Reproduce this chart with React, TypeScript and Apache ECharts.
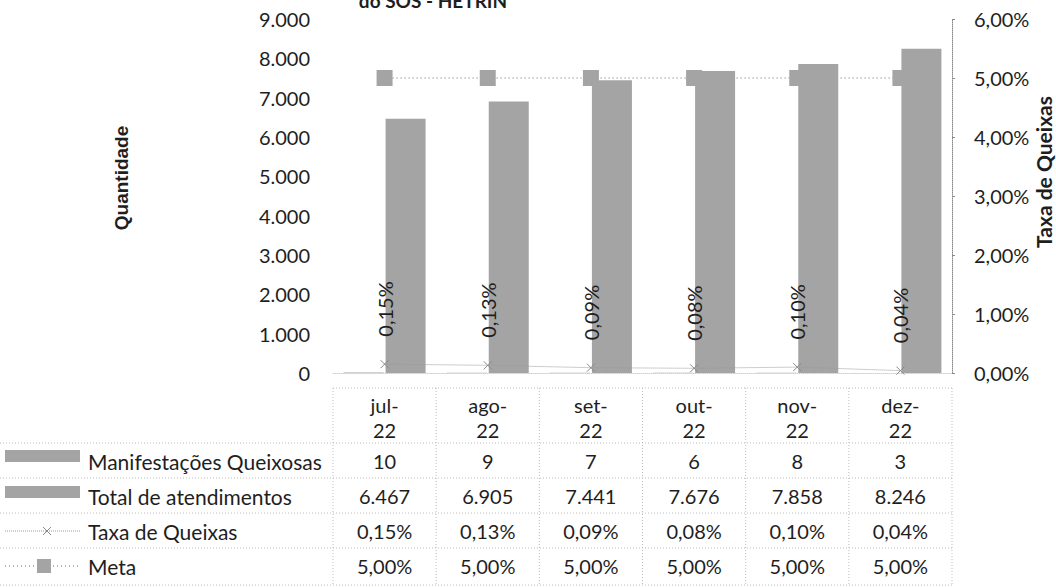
import React, { useEffect, useRef } from "react";
import * as echarts from "echarts";

const categories = ["jul-22", "ago-22", "set-22", "out-22", "nov-22", "dez-22"];
const manifestacoes = [10, 9, 7, 6, 8, 3];
const totalAtendimentos = [6467, 6905, 7441, 7676, 7858, 8246];
const taxaQueixas = [0.15, 0.13, 0.09, 0.08, 0.1, 0.04];
const meta = [5, 5, 5, 5, 5, 5];
const seriesNames = ["Manifestações Queixosas", "Total de atendimentos", "Taxa de Queixas", "Meta"];
const titleText = "do SOS - HETRIN";
const leftAxisName = "Quantidade";
const rightAxisName = "Taxa de Queixas";

const FONT = 'Lato, "Liberation Sans", sans-serif';
const BAR = "#a4a4a4";
const LINE = "#9a9a9a";
const TXT = "#1e1e1e";
const TABLE_LINE = "#bdbdbd";

const fmtInt = (v: number) => String(Math.round(v)).replace(/\B(?=(\d{3})+(?!\d))/g, ".");
const fmtPct = (v: number) => v.toFixed(2).replace(".", ",") + "%";

const GRID = { left: 333, top: 19, width: 619, height: 354 };

export default function App() {
  const ref = useRef<HTMLDivElement>(null);
  useEffect(() => {
    if (!ref.current) return;
    const chart = echarts.init(ref.current, undefined, { renderer: "svg" });
    const xMarker = "path://M0,0L10,10M10,0L0,10";
    chart.setOption({
      animation: false,
      textStyle: { fontFamily: FONT },
      grid: { left: GRID.left, top: GRID.top, width: GRID.width, height: GRID.height, containLabel: false },
      xAxis: {
        type: "category",
        data: categories,
        axisLabel: { show: false },
        axisTick: { show: false },
        axisLine: { show: true, lineStyle: { color: "#d0d0d0", type: "dotted", width: 1 } },
      },
      yAxis: [
        {
          type: "value",
          min: 0,
          max: 9000,
          interval: 1000,
          splitLine: { show: false },
          axisLine: { show: false },
          axisTick: { show: false },
          axisLabel: { color: TXT, fontSize: 20, fontFamily: FONT, margin: 23, formatter: (v: number) => fmtInt(v) },
        },
        {
          type: "value",
          min: 0,
          max: 6,
          interval: 1,
          position: "right",
          splitLine: { show: false },
          axisLine: { show: true, lineStyle: { color: "#8a8a8a", type: "dotted", width: 1 } },
          axisTick: { show: true, length: 3, lineStyle: { color: "#8a8a8a" } },
          axisLabel: { color: TXT, fontSize: 20, fontFamily: FONT, margin: 22, formatter: (v: number) => fmtPct(v) },
        },
      ],
      series: [
        {
          name: seriesNames[0],
          type: "bar",
          data: manifestacoes,
          barWidth: 40,
          barGap: "5%",
          itemStyle: { color: BAR },
        },
        {
          name: seriesNames[1],
          type: "bar",
          data: totalAtendimentos,
          barWidth: 40,
          barGap: "5%",
          itemStyle: { color: BAR },
        },
        {
          name: seriesNames[3],
          type: "line",
          yAxisIndex: 1,
          data: meta,
          symbol: "rect",
          symbolSize: 16,
          itemStyle: { color: BAR },
          lineStyle: { color: LINE, type: [1, 3], width: 1.5 },
          z: 1,
        },
        {
          name: seriesNames[2],
          type: "line",
          yAxisIndex: 1,
          data: taxaQueixas,
          symbol: xMarker,
          symbolSize: 8,
          itemStyle: { color: "none", borderColor: "#888", borderWidth: 1 },
          lineStyle: { color: LINE, type: "dotted", width: 1 },
          label: {
            show: true,
            position: "top",
            rotate: 90,
            align: "left",
            verticalAlign: "middle",
            distance: 21,
            color: TXT,
            fontSize: 20,
            fontFamily: FONT,
            formatter: (p: any) => fmtPct(p.value),
          },
          z: 5,
        },
      ],
    });

    // data table below the plot
    const centers = categories.map((_, i) => chart.convertToPixel({ xAxisIndex: 0 }, i) as number);
    const colW = GRID.width / categories.length;
    const left = GRID.left;
    const right = GRID.left + GRID.width;
    const rowLines = [443, 478, 513, 548, 585];
    const headTop = 388;
    const rowCenters = [461, 496, 531, 566];
    const dash = { stroke: TABLE_LINE, lineWidth: 1, lineDash: [1, 2] };
    const g: any[] = [];
    g.push({ type: "line", shape: { x1: left, y1: headTop, x2: right, y2: headTop }, style: dash, silent: true });
    rowLines.forEach((y) =>
      g.push({ type: "line", shape: { x1: 0, y1: y, x2: right, y2: y }, style: dash, silent: true })
    );
    for (let i = 0; i <= categories.length; i++) {
      const x = left + i * colW;
      g.push({ type: "line", shape: { x1: x, y1: headTop, x2: x, y2: 585 }, style: dash, silent: true });
    }
    const cellText = (x: number, y: number, t: string) => ({
      type: "text",
      x,
      y,
      style: { text: t, fill: TXT, font: `20px ${FONT}`, align: "center", verticalAlign: "middle" },
      silent: true,
    });
    categories.forEach((c, i) => {
      const [m, yr] = c.split("-");
      g.push({
        type: "text",
        x: centers[i],
        y: 417,
        style: { text: `${m}-\n${yr}`, fill: TXT, font: `20px ${FONT}`, lineHeight: 25, align: "center", verticalAlign: "middle" },
        silent: true,
      });
      g.push(cellText(centers[i], rowCenters[0], String(manifestacoes[i])));
      g.push(cellText(centers[i], rowCenters[1], fmtInt(totalAtendimentos[i])));
      g.push(cellText(centers[i], rowCenters[2], fmtPct(taxaQueixas[i])));
      g.push(cellText(centers[i], rowCenters[3], fmtPct(meta[i])));
    });
    // legend keys + names
    seriesNames.forEach((n, i) =>
      g.push({
        type: "text",
        x: 88,
        y: rowCenters[i],
        style: { text: n, fill: TXT, font: `21px ${FONT}`, align: "left", verticalAlign: "middle" },
        silent: true,
      })
    );
    g.push({ type: "rect", shape: { x: 5, y: 450, width: 75, height: 12 }, style: { fill: BAR }, silent: true });
    g.push({ type: "rect", shape: { x: 5, y: 486, width: 75, height: 12 }, style: { fill: BAR }, silent: true });
    g.push({ type: "line", shape: { x1: 5, y1: 531, x2: 80, y2: 531 }, style: { stroke: LINE, lineWidth: 1, lineDash: [1, 1] }, silent: true });
    g.push({ type: "line", shape: { x1: 43, y1: 527, x2: 51, y2: 535 }, style: { stroke: "#888", lineWidth: 1 }, silent: true });
    g.push({ type: "line", shape: { x1: 51, y1: 527, x2: 43, y2: 535 }, style: { stroke: "#888", lineWidth: 1 }, silent: true });
    g.push({ type: "line", shape: { x1: 5, y1: 566, x2: 80, y2: 566 }, style: { stroke: LINE, lineWidth: 1.5, lineDash: [1, 3] }, silent: true });
    g.push({ type: "rect", shape: { x: 37, y: 559, width: 14, height: 14 }, style: { fill: BAR }, silent: true });
    // title (cropped at top, as in the reference) and axis names
    g.push({
      type: "text",
      x: 433,
      y: 0,
      style: { text: titleText, fill: TXT, font: `bold 19px ${FONT}`, align: "center", verticalAlign: "middle" },
      silent: true,
    });
    g.push({
      type: "text",
      x: 121,
      y: 178,
      rotation: Math.PI / 2,
      style: { text: leftAxisName, fill: TXT, font: `bold 19px "Liberation Sans", Arial, sans-serif`, align: "center", verticalAlign: "middle" },
      silent: true,
    });
    g.push({
      type: "text",
      x: 1043,
      y: 172,
      rotation: Math.PI / 2,
      style: { text: rightAxisName, fill: TXT, font: `bold 21px ${FONT}`, align: "center", verticalAlign: "middle" },
      silent: true,
    });
    chart.setOption({ graphic: { elements: g } });
    return () => chart.dispose();
  }, []);
  return (
    <div
      ref={ref}
      style={{ position: "fixed", left: 0, top: 0, width: 1056, height: 587, background: "#fff" }}
    />
  );
}
